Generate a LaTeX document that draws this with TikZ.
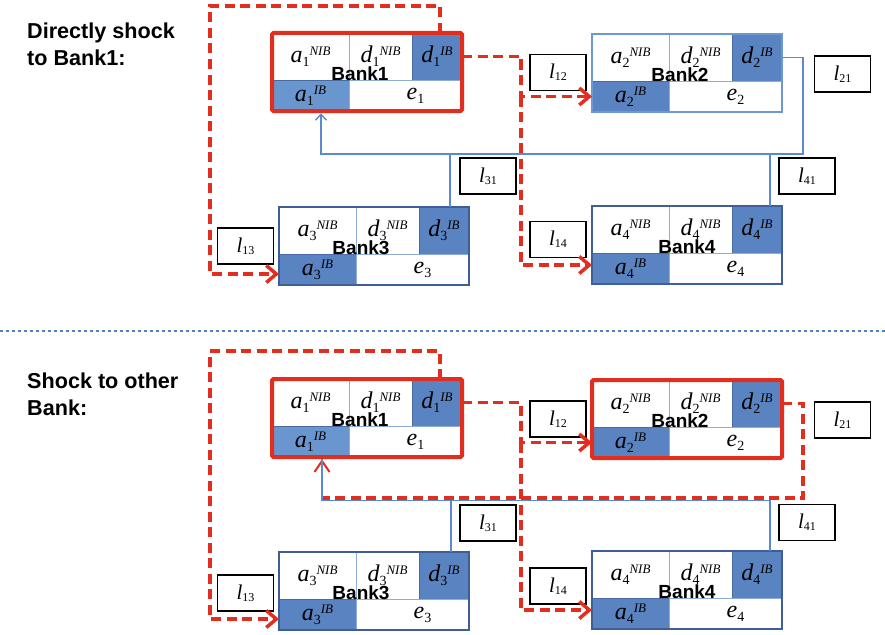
\documentclass[tikz,border=0pt]{standalone}
\usepackage{fontspec}
\setmainfont{Liberation Serif}
\newfontfamily\sansfam{Liberation Sans}
\usetikzlibrary{arrows.meta}

\definecolor{shockred}{RGB}{226,46,30}
\definecolor{cellblue}{RGB}{90,131,194}
\definecolor{cellpale}{RGB}{106,150,208}
\definecolor{gridblue}{RGB}{140,172,220}
\definecolor{edgeblue}{RGB}{72,106,160}
\definecolor{framedark}{RGB}{62,95,150}
\definecolor{framelight}{RGB}{110,152,210}
\definecolor{linkblue}{RGB}{92,138,206}
\definecolor{sepblue}{RGB}{79,127,196}

% variable with subscript and superscript, e.g. a_1^{NIB}
\newcommand\sv[3]{\textit{#1}\raisebox{-4pt}{\fontsize{14}{14}\selectfont #2}\raisebox{7pt}{\fontsize{13}{13}\selectfont\itshape #3}}
% equity e_i
\newcommand\ev[1]{\hspace*{20pt}\textit{e}\raisebox{-4pt}{\fontsize{14}{14}\selectfont #1}}
% exposure l_ij
\newcommand\lv[1]{\textit{l}\raisebox{-2pt}{\fontsize{12}{12}\selectfont #1}}

\tikzset{
  cellbase/.style={rectangle, inner sep=0pt, outer sep=0pt, anchor=north west,
    font=\fontsize{24}{24}\selectfont},
  plaincell/.style={cellbase, draw=gridblue, line width=0.9pt, fill=white},
  darkcell/.style={cellbase, draw=edgeblue, line width=0.9pt, fill=cellblue},
  palecell/.style={cellbase, draw=edgeblue, line width=0.9pt, fill=cellpale},
  redframe/.style={draw=shockred, line width=4pt, rounded corners=1.5pt},
  darkframe/.style={draw=framedark, line width=2.2pt},
  lightframe/.style={draw=framelight, line width=2pt},
  flowbox/.style={rectangle, draw=black, line width=1.2pt, fill=white,
    minimum width=56pt, minimum height=36pt, inner sep=0pt,
    font=\fontsize{21}{21}\selectfont},
  banktag/.style={font=\sansfam\bfseries\fontsize{19}{19}\selectfont, inner sep=0pt},
  shockpath/.style={draw=shockred, line width=3.5pt, dash pattern=on 10pt off 5.5pt},
  shocktip/.style={-{Straight Barb[length=10pt,width=17pt]}},
  linkpath/.style={draw=linkblue, line width=1.4pt},
  linktip/.style={-{Straight Barb[length=6pt,width=11pt]}},
  sidetext/.style={font=\sansfam\bfseries\fontsize{21.6}{27}\selectfont,
    align=left, anchor=north west, inner sep=0pt},
  sepline/.style={draw=sepblue, line width=2.6pt, dash pattern=on 2.6pt off 3.4pt},
}

% one balance sheet: prefix, x, y, index, frame style, a^IB cell style, tag x offset
\newcommand\bankgroup[7]{%
  \node[plaincell, minimum width=77pt, minimum height=47pt] (#1aN) at (#2,#3) {\sv{a}{#4}{NIB}};
  \node[plaincell, minimum width=63pt, minimum height=47pt] (#1dN) at ({#2+77},#3) {\sv{d}{#4}{NIB}};
  \node[darkcell, minimum width=50pt, minimum height=47pt] (#1dI) at ({#2+140},#3) {\sv{d}{#4}{IB}};
  \node[#6, minimum width=77pt, minimum height=31pt] (#1aI) at (#2,{#3+47}) {\sv{a}{#4}{IB}};
  \node[plaincell, minimum width=113pt, minimum height=31pt] (#1e) at ({#2+77},{#3+47}) {\ev{#4}};
  \node[#5, rectangle, inner sep=0pt, outer sep=0pt, minimum width=190pt,
        minimum height=78pt, anchor=north west] (#1) at (#2,#3) {};
  \node[banktag] (#1tag) at ({#2+#7},{#3+41}) {Bank#4};
}

\begin{document}
\begin{tikzpicture}[x=1pt,y=-1pt]
\useasboundingbox (0,0) rectangle (885,634);

% ---------------- upper panel: shock hits Bank1 directly ----------------
\node[sidetext] (toptext) at (27,23) {Directly shock\\to Bank1:};

\bankgroup{t1}{272}{33}{1}{redframe}{palecell}{88}
\bankgroup{t2}{592}{34}{2}{lightframe}{darkcell}{88}
\bankgroup{t3}{279}{207}{3}{darkframe}{darkcell}{82}
\bankgroup{t4}{592}{206}{4}{darkframe}{darkcell}{95}

\node[flowbox] (tl12) at (558,72.5) {\lv{12}};
\node[flowbox] (tl21) at (842.5,74) {\lv{21}};
\node[flowbox] (tl31) at (488,176) {\lv{31}};
\node[flowbox] (tl41) at (807,176) {\lv{41}};
\node[flowbox] (tl13) at (245.5,246) {\lv{13}};
\node[flowbox] (tl14) at (558,239.5) {\lv{14}};

% interbank claims on Bank1
\coordinate (tjR) at (803,154);
\coordinate (tjB) at (321,154);
\coordinate (tj3) at (450,154);
\coordinate (tj4) at (770,154);
\draw[linkpath] (tj3 |- t3dI.north) -- (tj3);
\draw[linkpath] (tj4 |- t4dI.north) -- (tj4);
\draw[linkpath, linktip, shorten >=2.2pt] (t2dI.east) -| (tjR) -- (tjB) -- (tjB |- t1aI.south);

% contagion out of Bank1
\coordinate (tcTL) at (210,6);
\coordinate (tsp) at (521,55);
\draw[shockpath, shocktip] ([xshift=3pt]t1dI.north) |- (tcTL) |- ([yshift=-4.5pt]t3aI.west);
\draw[shockpath, shocktip] (t1dI.east) -| (tsp |- t2aI.west) -- (t2aI.west);
\draw[shockpath, shocktip] (tsp |- t2aI.west) |- ([yshift=3.5pt]t4aI.west);

% ---------------- separator ----------------
\coordinate (sepL) at (0,331);
\coordinate (sepR) at (885,331);
\draw[sepline] (sepL) -- (sepR);

% ---------------- lower panel: shock to another bank ----------------
\node[sidetext] (bottext) at (27,373) {Shock to other\\Bank:};

\bankgroup{b1}{272}{379}{1}{redframe}{palecell}{88}
\bankgroup{b2}{592}{380}{2}{redframe}{darkcell}{88}
\bankgroup{b3}{279}{552}{3}{darkframe}{darkcell}{82}
\bankgroup{b4}{592}{551}{4}{darkframe}{darkcell}{95}

\node[flowbox] (bl12) at (558,419) {\lv{12}};
\node[flowbox] (bl21) at (842.5,420) {\lv{21}};
\node[flowbox] (bl31) at (488,523) {\lv{31}};
\node[flowbox] (bl41) at (807,522.5) {\lv{41}};
\node[flowbox] (bl13) at (245.5,593) {\lv{13}};
\node[flowbox] (bl14) at (558,586) {\lv{14}};

% contagion out of Bank1
\coordinate (bcTL) at (210,351);
\coordinate (bsp) at (521,401);
\draw[shockpath, shocktip] ([xshift=3pt]b1dI.north) |- (bcTL) |- ([yshift=-4.5pt]b3aI.west);
\draw[shockpath, shocktip] (b1dI.east) -| (bsp |- b2aI.west) -- (b2aI.west);
\draw[shockpath, shocktip] (bsp |- b2aI.west) |- ([yshift=3.5pt]b4aI.west);

% contagion from Bank2 back to Bank1
\coordinate (bjR) at (803,498);
\coordinate (bjL) at (322,498);
\draw[shockpath] (b2dI.east) -| (bjR) -- (bjL);
\draw[draw=shockred, line width=2pt, -{Straight Barb[length=11pt,width=15pt]}, shorten >=2.2pt]
  (bjL) -- (bjL |- b1aI.south);

% interbank claims on Bank1
\coordinate (bjB) at (322,500.5);
\coordinate (bj3) at (451,500.5);
\coordinate (bj4) at (770,500.5);
\draw[linkpath] (bj3 |- b3dI.north) -- (bj3);
\draw[linkpath, shorten >=2.2pt] (bj4 |- b4dI.north) -- (bj4) -- (bjB) -- (bjB |- b1aI.south);
\end{tikzpicture}
\end{document}
